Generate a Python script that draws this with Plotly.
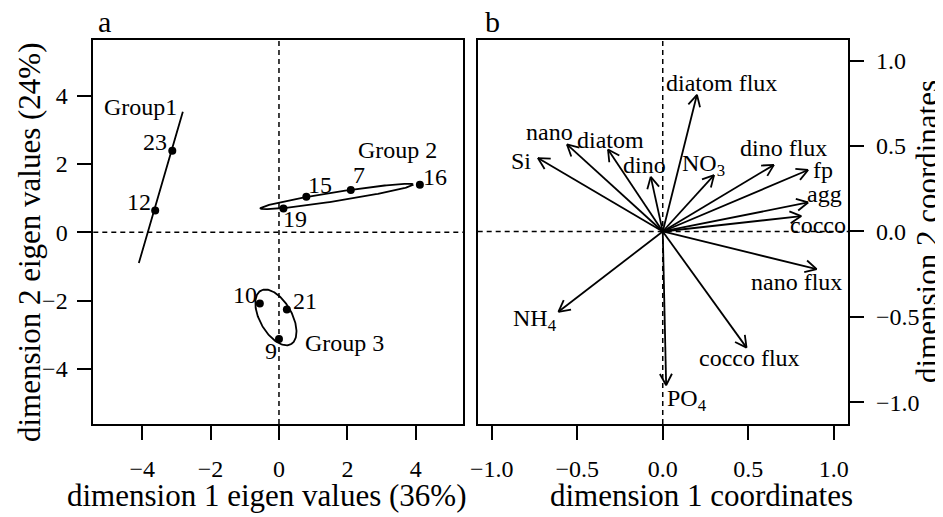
import numpy as np
import plotly.graph_objects as go

# ---------------- data: panel a (site scores) ----------------
site_ids = ["23", "12", "19", "15", "7", "16", "10", "21", "9"]
dim1_scores = [-3.12, -3.62, 0.13, 0.80, 2.10, 4.12, -0.56, 0.23, 0.00]
dim2_scores = [2.39, 0.64, 0.70, 1.04, 1.24, 1.39, -2.08, -2.26, -3.12]

group_names = ["Group1", "Group 2", "Group 3"]
group_center_x = [-3.455, 1.69, -0.09]
group_center_y = [1.315, 1.05, -2.49]
group_semi_major = [2.307, 2.26, 0.90]
group_semi_minor = [0.0, 0.13, 0.47]
group_angle_deg = [73.8, 8.9, -60.6]
group_label_x = [-4.05, 3.46, 1.92]
group_label_y = [3.66, 2.42, -3.24]

# ---------------- data: panel b (variable coordinates) ----------------
variables = ["diatom flux", "Si", "nano", "diatom", "dino", "NO<sub>3</sub>",
             "dino flux", "fp", "agg", "cocco", "nano flux", "cocco flux",
             "PO<sub>4</sub>", "NH<sub>4</sub>"]
coord1 = [0.20, -0.73, -0.56, -0.32, -0.07, 0.30, 0.65, 0.85, 0.85, 0.81, 0.90, 0.49, 0.02, -0.61]
coord2 = [0.80, 0.43, 0.51, 0.48, 0.32, 0.33, 0.39, 0.36, 0.17, 0.09, -0.22, -0.68, -0.90, -0.47]
var_label_x = [0.345, -0.828, -0.662, -0.304, -0.109, 0.237, 0.705, 0.938, 0.944, 0.905, 0.783, 0.506, 0.140, -0.746]
var_label_y = [0.869, 0.414, 0.580, 0.537, 0.391, 0.390, 0.489, 0.361, 0.219, 0.039, -0.293, -0.742, -0.986, -0.517]

ticks_a = [-4, -2, 0, 2, 4]
ticks_b = [-1.0, -0.5, 0.0, 0.5, 1.0]

# ---------------- styling / layout constants ----------------
FONT = "Liberation Serif"
PAGE_W, PAGE_H = 943, 517
OFF = 8                      # default body margin of the html page
W, H = PAGE_W - OFF, PAGE_H - OFF
AX_L, AX_R = 93.3, 463.3     # frame positions in page pixels
BX_L, BX_R = 477.7, 848.3
P_TOP, P_BOT = 40, 424
site_dx = [-17, -16, 12, 14, 8, 15, -15, 18, -8]
site_dy = [9, 8, -11, 12, 15, 8, 8, 9, -12]


def fx(px):
    return (px - OFF) / W


def fy(py):
    return 1 - (py - OFF) / H


fig = go.Figure()

# ---- panel a: ellipses ----
t = np.linspace(0, 2 * np.pi, 200)
for cx, cy, a, b, ang in zip(group_center_x, group_center_y, group_semi_major,
                             group_semi_minor, group_angle_deg):
    th = np.deg2rad(ang)
    ex = cx + a * np.cos(t) * np.cos(th) - b * np.sin(t) * np.sin(th)
    ey = cy + a * np.cos(t) * np.sin(th) + b * np.sin(t) * np.cos(th)
    fig.add_trace(go.Scatter(x=ex, y=ey, mode="lines", line=dict(color="black", width=1.8),
                             xaxis="x", yaxis="y", hoverinfo="skip", showlegend=False))

fig.add_trace(go.Scatter(x=dim1_scores, y=dim2_scores, mode="markers",
                         marker=dict(color="black", size=8), xaxis="x", yaxis="y",
                         showlegend=False))

# ---- panel b: arrows ----
xs, ys = [], []
head_len = 0.075
head_ang = np.deg2rad(28)
for x1, y1 in zip(coord1, coord2):
    xs += [0, x1, None]
    ys += [0, y1, None]
    th = np.arctan2(y1, x1)
    for s in (1, -1):
        xs += [x1 - head_len * np.cos(th + s * head_ang), x1, None]
        ys += [y1 - head_len * np.sin(th + s * head_ang), y1, None]
fig.add_trace(go.Scatter(x=xs, y=ys, mode="lines", line=dict(color="black", width=1.8),
                         xaxis="x2", yaxis="y2", hoverinfo="skip", showlegend=False))

annotations = []
txt_font = dict(family=FONT, size=24, color="black")
for sid, x, y, dx, dy in zip(site_ids, dim1_scores, dim2_scores, site_dx, site_dy):
    annotations.append(dict(x=x, y=y, xref="x", yref="y", text=sid, showarrow=False,
                            xshift=dx, yshift=dy, font=txt_font))
for g, x, y in zip(group_names, group_label_x, group_label_y):
    annotations.append(dict(x=x, y=y, xref="x", yref="y", text=g, showarrow=False, font=txt_font))
for v, x, y in zip(variables, var_label_x, var_label_y):
    annotations.append(dict(x=x, y=y, xref="x2", yref="y2", text=v, showarrow=False, font=txt_font))

title_font = dict(family=FONT, size=31, color="black")


def paper_text(px, py, text, font, angle=0):
    return dict(x=fx(px), y=fy(py), xref="paper", yref="paper", text=text,
                showarrow=False, font=font, textangle=angle,
                xanchor="center", yanchor="middle")


annotations += [
    paper_text(266, 495, "dimension 1 eigen values (36%)", title_font),
    paper_text(701, 495, "dimension 1 coordinates", title_font),
    paper_text(29, 243, "dimension 2 eigen values (24%)", title_font, -90),
    paper_text(928, 232, "dimension 2 coordinates", title_font, -90),
    paper_text(104, 22, "a", dict(family=FONT, size=30, color="black")),
    paper_text(492, 22, "b", dict(family=FONT, size=30, color="black")),
]

shapes = []
dash = "5px,4px"
for xr, yr in (("x", "y"), ("x2", "y2")):
    shapes.append(dict(type="line", xref=xr, yref=yr + " domain", x0=0, x1=0, y0=0, y1=1,
                       line=dict(color="black", width=1.5, dash=dash)))
    shapes.append(dict(type="line", xref=xr + " domain", yref=yr, x0=0, x1=1, y0=0, y1=0,
                       line=dict(color="black", width=1.5, dash=dash)))

tick_font = dict(family=FONT, size=24, color="black")
axis_common = dict(showgrid=False, zeroline=False, showline=True, mirror=True, linecolor="black",
                   linewidth=1.7, ticks="outside", ticklen=14, tickwidth=1.7, tickcolor="black",
                   tickfont=tick_font, automargin=False, fixedrange=True,
                   ticklabelposition="outside")
ydom = [fy(P_BOT), fy(P_TOP)]

fig.update_layout(
    template="none",
    width=W, height=H, autosize=False,
    margin=dict(l=0, r=0, t=0, b=0, autoexpand=False),
    paper_bgcolor="white", plot_bgcolor="white",
    showlegend=False,
    xaxis=dict(domain=[fx(AX_L), fx(AX_R)], range=[-5.43, 5.39], tickvals=ticks_a,
               anchor="y", ticklabelstandoff=8, **axis_common),
    yaxis=dict(domain=ydom, range=[-5.61, 5.63], tickvals=ticks_a, anchor="x",
               ticklabelstandoff=5, **axis_common),
    xaxis2=dict(domain=[fx(BX_L), fx(BX_R)], range=[-1.082, 1.085], tickvals=ticks_b,
                tickformat=".1f", anchor="y2", ticklabelstandoff=8, **axis_common),
    yaxis2=dict(domain=ydom, range=[-1.127, 1.121], tickvals=ticks_b, tickformat=".1f",
                anchor="x2", side="right", ticklabelstandoff=7, **axis_common),
    annotations=annotations,
    shapes=shapes,
)

fig.write_html("out.html")
